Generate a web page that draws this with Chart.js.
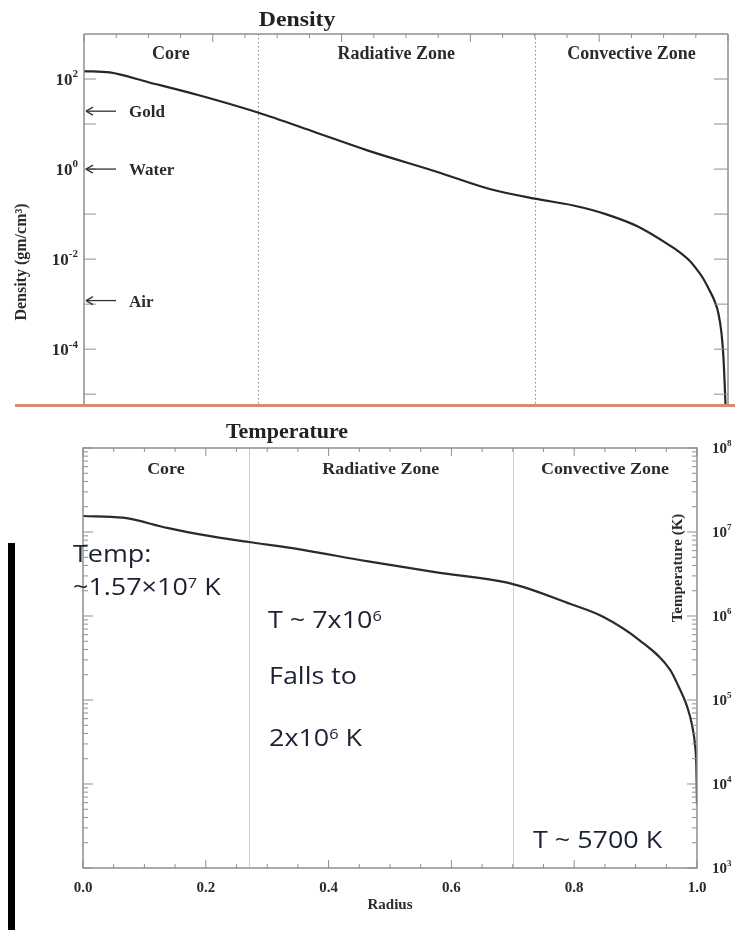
<!DOCTYPE html>
<html>
<head>
<meta charset="utf-8">
<script src="https://cdn.jsdelivr.net/npm/chart.js@4.4.1/dist/chart.umd.min.js"></script>
<style>
  html, body { margin: 0; padding: 0; background: #fff; }
  body { width: 735px; height: 930px; position: relative; overflow: hidden; }
  #densityWrap { position: absolute; left: 0; top: 0; width: 735px; height: 406px; }
  #tempWrap { position: absolute; left: 0; top: 406px; width: 735px; height: 524px; }
  #divider { position: absolute; left: 15px; top: 404px; width: 720px; height: 3px; background: #dc8c6e; }
  #sidebar { position: absolute; left: 8px; top: 543px; width: 7px; height: 387px; background: #000; }
</style>
</head>
<body>
<div id="densityWrap"><canvas id="density"></canvas></div>
<div id="tempWrap"><canvas id="temperature"></canvas></div>
<div id="divider"></div>
<div id="sidebar"></div>
<script>
// Solar interior profiles (radius as a fraction of the solar radius)
const radiusDensity = [0, 0.04, 0.10, 0.18, 0.27, 0.36, 0.44, 0.55, 0.63, 0.70, 0.76, 0.81, 0.86, 0.91, 0.92, 0.94, 0.95, 0.96, 0.97, 0.98, 0.985, 0.99, 0.993, 0.996, 1.0];
const densityValues = [150, 140, 85, 43, 18, 6.5, 2.6, 0.85, 0.36, 0.22, 0.155, 0.10, 0.053, 0.020, 0.016, 0.0093, 0.0063, 0.0040, 0.0022, 0.0011, 0.00063, 0.00022, 0.000063, 0.0000063, 0.0000001];

const radiusTemp = [0, 0.065, 0.137, 0.2, 0.27, 0.353, 0.462, 0.576, 0.70, 0.793, 0.847, 0.907, 0.956, 0.97, 0.984, 0.992, 0.997, 0.999, 1.0];
const temperatureValues = [1.55e7, 1.48e7, 1.12e7, 9.1e6, 7.6e6, 6.2e6, 4.5e6, 3.3e6, 2.4e6, 1.4e6, 9.8e5, 5.1e5, 2.3e5, 1.45e5, 8.3e4, 5.0e4, 2.8e4, 1.6e4, 5700];

const zoneNames = ['Core', 'Radiative Zone', 'Convective Zone'];
const zoneEdges = [0, 0.27, 0.70, 1.0];

const materialNames = ['Gold', 'Water', 'Air'];
const materialDensity = [19.3, 1.0, 0.0012];

const radiusTicks = [0, 0.2, 0.4, 0.6, 0.8, 1.0];
const densityLabelExps = [2, 0, -2, -4];
const densityTickExps = [-5, -4, -3, -2, -1, 0, 1, 2];
const tempLabelExps = [3, 4, 5, 6, 7, 8];

const SERIF = '"Liberation Serif", "Times New Roman", serif';
const SANS = '"Open Sans", "Noto Sans", sans-serif';
const INK = '#2b2b2b';
const NOTE = '#1c2233';
const FRAME = '#8f8f8f';
const TEMP_TOP = 406; // page offset of the temperature canvas

function richWidth(ctx, parts, size, family, weight) {
  let w = 0;
  for (const [t, s] of parts) {
    ctx.font = `${weight} ${s ? Math.round(size * 0.62) : size}px ${family}`;
    w += ctx.measureText(t).width;
  }
  return w;
}

function drawRich(ctx, parts, x, y, o) {
  const { size, family, weight = 'normal', color, align = 'left', sx = 1, rise = 0.42 } = o;
  ctx.save();
  ctx.fillStyle = color;
  ctx.textBaseline = 'alphabetic';
  ctx.textAlign = 'left';
  const w = richWidth(ctx, parts, size, family, weight) * sx;
  const start = align === 'right' ? x - w : align === 'center' ? x - w / 2 : x;
  ctx.translate(start, y);
  ctx.scale(sx, 1);
  let cx = 0;
  for (const [t, s] of parts) {
    const fs = s ? Math.round(size * 0.62) : size;
    ctx.font = `${weight} ${fs}px ${family}`;
    ctx.fillText(t, cx, s ? -size * rise : 0);
    cx += ctx.measureText(t).width;
  }
  ctx.restore();
}

function drawRotated(ctx, text, cx, cy, font, color) {
  ctx.save();
  ctx.translate(cx, cy);
  ctx.rotate(-Math.PI / 2);
  ctx.font = font;
  ctx.fillStyle = color;
  ctx.textAlign = 'center';
  ctx.textBaseline = 'middle';
  ctx.fillText(text, 0, 0);
  ctx.restore();
}

function line(ctx, x1, y1, x2, y2) {
  ctx.beginPath();
  ctx.moveTo(x1, y1);
  ctx.lineTo(x2, y2);
  ctx.stroke();
}

function powerLabel(e) { return [['10', false], [String(e), true]]; }

// ---------- Density panel ----------
const densityDecor = {
  id: 'densityDecor',
  beforeDatasetsDraw(chart) {
    const { ctx, chartArea: a, scales: { x } } = chart;
    ctx.save();
    ctx.strokeStyle = '#8a8a8a';
    ctx.lineWidth = 1;
    ctx.setLineDash([1.5, 2.5]);
    zoneEdges.slice(1, -1).forEach(r => {
      const px = Math.round(x.getPixelForValue(r)) + 0.5;
      line(ctx, px, a.top, px, a.bottom);
    });
    ctx.restore();
  },
  afterDraw(chart) {
    const { ctx, chartArea: a, scales: { x, y } } = chart;
    ctx.save();
    ctx.strokeStyle = FRAME;
    ctx.lineWidth = 1.5;
    line(ctx, a.left, a.top, a.right, a.top);
    line(ctx, a.left, a.top, a.left, a.bottom);
    line(ctx, a.right, a.top, a.right, a.bottom);

    // radius ticks along the top edge
    ctx.lineWidth = 1;
    for (let i = 0; i <= 20; i++) {
      const px = x.getPixelForValue(i / 20);
      line(ctx, px, a.top, px, a.top + (i % 4 === 0 ? 8 : 4));
    }
    // decade ticks on both vertical edges
    densityTickExps.forEach(e => {
      const py = y.getPixelForValue(Math.pow(10, e));
      line(ctx, a.left, py, a.left + 12, py);
      line(ctx, a.right, py, a.right - 14, py);
    });

    // decade labels
    densityLabelExps.forEach(e => {
      const py = y.getPixelForValue(Math.pow(10, e));
      drawRich(ctx, powerLabel(e), a.left - 6, py + 6, { size: 17, family: SERIF, weight: 'bold', color: INK, align: 'right', rise: 0.45 });
    });

    // reference materials
    ctx.strokeStyle = '#333';
    ctx.lineWidth = 1.3;
    materialNames.forEach((name, i) => {
      const py = y.getPixelForValue(materialDensity[i]);
      line(ctx, a.left + 2, py, a.left + 32, py);
      line(ctx, a.left + 2, py, a.left + 9, py - 4);
      line(ctx, a.left + 2, py, a.left + 9, py + 4);
      drawRich(ctx, [[name, false]], a.left + 45, py + 6, { size: 17, family: SERIF, weight: 'bold', color: INK });
    });

    // zone names
    zoneNames.forEach((name, i) => {
      const px = x.getPixelForValue((zoneEdges[i] + zoneEdges[i + 1]) / 2);
      drawRich(ctx, [[name, false]], px, 59, { size: 18, family: SERIF, weight: 'bold', color: INK, align: 'center' });
    });

    drawRich(ctx, [['Density', false]], 297, 26, { size: 22, family: SERIF, weight: 'bold', color: '#222', align: 'center', sx: 1.08 });
    drawRotated(ctx, 'Density (gm/cm³)', 22, 262, `bold 16px ${SERIF}`, INK);
    ctx.restore();
  }
};

new Chart(document.getElementById('density'), {
  type: 'line',
  data: {
    datasets: [{
      data: radiusDensity.map((r, i) => ({ x: r, y: densityValues[i] })),
      borderColor: '#262626',
      borderWidth: 2.2,
      pointRadius: 0,
      cubicInterpolationMode: 'monotone',
      fill: false
    }]
  },
  options: {
    responsive: true,
    maintainAspectRatio: false,
    animation: false,
    layout: { padding: { top: 34, right: 7, bottom: 1, left: 0 } },
    plugins: { legend: { display: false }, tooltip: { enabled: false } },
    scales: {
      x: { type: 'linear', min: 0, max: 1, display: false },
      y: {
        type: 'logarithmic',
        position: 'left',
        min: 5.75e-6,
        max: 1000,
        grid: { display: false, drawTicks: false },
        border: { display: false },
        ticks: { display: false },
        afterFit: s => { s.width = 84; }
      }
    }
  },
  plugins: [densityDecor]
});

// ---------- Temperature panel ----------
const tempDecor = {
  id: 'tempDecor',
  beforeDatasetsDraw(chart) {
    const { ctx, chartArea: a, scales: { x } } = chart;
    ctx.save();
    ctx.strokeStyle = '#cfcfcf';
    ctx.lineWidth = 1;
    zoneEdges.slice(1, -1).forEach(r => {
      const px = Math.round(x.getPixelForValue(r)) + 0.5;
      line(ctx, px, a.top, px, a.bottom);
    });
    ctx.restore();
  },
  afterDraw(chart) {
    const { ctx, chartArea: a, scales: { x, y } } = chart;
    ctx.save();
    ctx.strokeStyle = FRAME;
    ctx.lineWidth = 1.5;
    ctx.strokeRect(a.left, a.top, a.right - a.left, a.bottom - a.top);

    ctx.lineWidth = 1;
    for (let i = 0; i <= 20; i++) {
      const px = x.getPixelForValue(i / 20);
      const len = i % 4 === 0 ? 8 : 4;
      line(ctx, px, a.bottom, px, a.bottom - len);
      line(ctx, px, a.top, px, a.top + len);
    }
    for (let e = 3; e <= 8; e++) {
      for (let k = 1; k <= 9; k++) {
        const v = k * Math.pow(10, e);
        if (v > 1e8) break;
        const py = y.getPixelForValue(v);
        const len = k === 1 ? 10 : 5;
        line(ctx, a.left, py, a.left + len, py);
        line(ctx, a.right, py, a.right - len, py);
      }
    }

    tempLabelExps.forEach(e => {
      const py = y.getPixelForValue(Math.pow(10, e));
      drawRich(ctx, powerLabel(e), a.right + 15, py + 5, { size: 15, family: SERIF, weight: 'bold', color: INK, rise: 0.45 });
    });

    zoneNames.forEach((name, i) => {
      const px = x.getPixelForValue((zoneEdges[i] + zoneEdges[i + 1]) / 2);
      drawRich(ctx, [[name, false]], px, 474 - TEMP_TOP, { size: 16, family: SERIF, weight: 'bold', color: INK, align: 'center', sx: 1.12 });
    });

    drawRich(ctx, [['Temperature', false]], 287, 438 - TEMP_TOP, { size: 20, family: SERIF, weight: 'bold', color: '#222', align: 'center', sx: 1.1 });
    drawRotated(ctx, 'Temperature (K)', 678, 568 - TEMP_TOP, `bold 15px ${SERIF}`, INK);

    // notes
    const note = { size: 23, family: SANS, color: NOTE, sx: 1.17, rise: 0.3 };
    drawRich(ctx, [['Temp:', false]], 73, 562 - TEMP_TOP, note);
    drawRich(ctx, [['~1.57×10', false], ['7', true], [' K', false]], 73, 595 - TEMP_TOP, note);
    drawRich(ctx, [['T ~ 7x10', false], ['6', true]], 268, 628 - TEMP_TOP, note);
    drawRich(ctx, [['Falls to', false]], 269, 684 - TEMP_TOP, note);
    drawRich(ctx, [['2x10', false], ['6', true], [' K', false]], 269, 746 - TEMP_TOP, note);
    drawRich(ctx, [['T ~ 5700 K', false]], 533, 848 - TEMP_TOP, note);
    ctx.restore();
  }
};

new Chart(document.getElementById('temperature'), {
  type: 'line',
  data: {
    datasets: [{
      data: radiusTemp.map((r, i) => ({ x: r, y: temperatureValues[i] })),
      borderColor: '#2a2a2a',
      borderWidth: 2.2,
      pointRadius: 0,
      cubicInterpolationMode: 'monotone',
      fill: false
    }]
  },
  options: {
    responsive: true,
    maintainAspectRatio: false,
    animation: false,
    layout: { padding: { top: 42, right: 0, bottom: 16, left: 83 } },
    plugins: { legend: { display: false }, tooltip: { enabled: false } },
    scales: {
      x: {
        type: 'linear',
        min: 0,
        max: 1,
        position: 'bottom',
        grid: { display: false, drawTicks: false },
        border: { display: false },
        afterBuildTicks: s => { s.ticks = radiusTicks.map(v => ({ value: v })); },
        afterFit: s => { s.height = 46; },
        ticks: {
          callback: v => Number(v).toFixed(1),
          font: { family: SERIF, weight: 'bold', size: 15 },
          color: INK,
          padding: 11,
          maxRotation: 0,
          autoSkip: false
        },
        title: {
          display: true,
          text: 'Radius',
          font: { family: SERIF, weight: 'bold', size: 15 },
          color: INK,
          padding: { top: 0, bottom: 0 }
        }
      },
      y: {
        type: 'logarithmic',
        position: 'right',
        min: 1e3,
        max: 1e8,
        grid: { display: false, drawTicks: false },
        border: { display: false },
        ticks: { display: false },
        afterFit: s => { s.width = 38; }
      }
    }
  },
  plugins: [tempDecor]
});
</script>
</body>
</html>
